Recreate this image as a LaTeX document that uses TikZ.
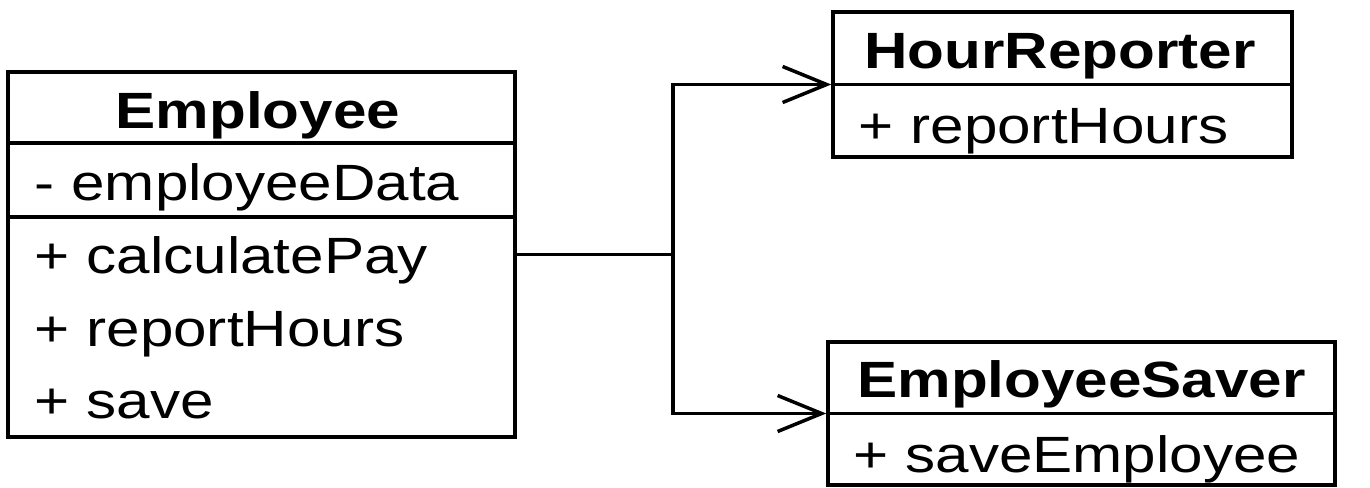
\documentclass[tikz,border=0pt]{standalone}
\usepackage{fontspec}
\setmainfont{Liberation Sans}
\usetikzlibrary{arrows.meta}

\tikzset{every picture/.style={line width=3.5pt}}
\tikzset{
  classbox/.style={draw, rectangle, inner sep=0pt},
  umltext/.style={inner sep=0pt, anchor=base west, font=\fontsize{51}{60}\selectfont},
  umltitle/.style={inner sep=0pt, anchor=base, font=\fontsize{51}{60}\selectfont\bfseries},
  uses/.style={-{Straight Barb[length=44pt,width=36pt,line width=3.5pt]}}
}
\newcommand{\wide}[1]{\scalebox{1.18}[1]{#1}}

\begin{document}
\begin{tikzpicture}[x=1pt,y=-1pt]
\useasboundingbox (0,0) rectangle (1370,487);

%Shape: Employee class
\node [classbox, minimum width=507pt, minimum height=365pt] (emp) at (261.5,254.5) {};
\draw (emp.west |- 0,143) -- (emp.east |- 0,143) ;
\draw (emp.west |- 0,217) -- (emp.east |- 0,217) ;
%Shape: HourReporter class
\node [classbox, minimum width=459pt, minimum height=145pt] (hr) at (1062.5,84.5) {};
\draw (hr.west) -- (hr.east) ;
%Shape: EmployeeSaver class
\node [classbox, minimum width=507pt, minimum height=143pt] (es) at (1081.5,413.5) {};
\draw (es.west) -- (es.east) ;

% Text Node
\node [umltitle] (empname) at (258,128) {\wide{Employee}};
\node [umltext] (empdata) at (33,200) {\wide{- employeeData}};
\node [umltext] (emppay) at (33,273) {\wide{+ calculatePay}};
\node [umltext] (emphours) at (33,346) {\wide{+ reportHours}};
\node [umltext] (empsave) at (33,418) {\wide{+ save}};
% Text Node
\node [umltitle] (hrname) at (1060,68) {\wide{HourReporter}};
\node [umltext] (hrhours) at (857,143) {\wide{+ reportHours}};
% Text Node
\node [umltitle] (esname) at (1081.5,397) {\wide{EmployeeSaver}};
\node [umltext] (essave) at (852,472) {\wide{+ saveEmployee}};

%Straight Lines
\coordinate (split) at (673,254.5);
\draw (emp.east) -- (split) ;
\draw [uses] (split) |- (hr.west) ;
\draw [uses] (split) |- (es.west) ;

\end{tikzpicture}
\end{document}
